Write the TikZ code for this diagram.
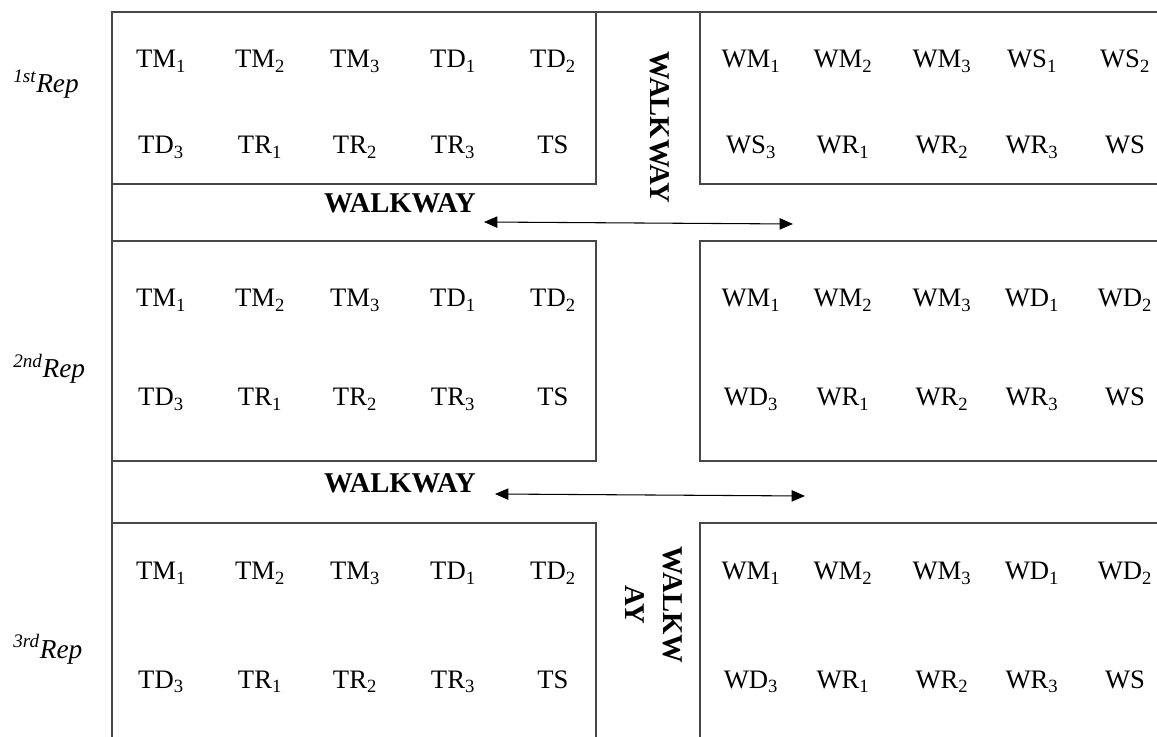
\documentclass[tikz,border=0pt]{standalone}
\usepackage{fontspec}
\setmainfont{Liberation Serif}
\usetikzlibrary{arrows.meta}
\newcommand\plotlab[2]{#1\textsubscript{#2}}
\begin{document}
\begin{tikzpicture}[x=0.75pt,y=-0.75pt,
  wall/.style={draw=black!72,line width=1.1pt},
  cell/.style={anchor=base,inner sep=0pt,font=\fontsize{20}{24}\selectfont},
  replabel/.style={anchor=base west,inner sep=0pt,font=\fontsize{20.5}{24}\selectfont\itshape},
  walk/.style={anchor=base,inner sep=0pt,font=\fontsize{21.5}{24}\selectfont\bfseries},
  vwalk/.style={walk,rotate=-90},
  flow/.style={draw=black,line width=0.8pt,{Triangle[length=10pt,width=8.5pt]}-{Triangle[length=10pt,width=8.5pt]}}
]
\fill[white] (0,0) rectangle (1157,737);
\useasboundingbox (0,0) rectangle (1157,737);

% plot boundaries
\draw[wall] (1157,12) -- (112,12) -- (112,737);
\draw[wall] (112,184) -- (596,184) -- (596,12);
\draw[wall] (700,12) -- (700,184) -- (1157,184);
\draw[wall] (112,241) -- (596,241) -- (596,461) -- (112,461);
\draw[wall] (1157,241) -- (700,241) -- (700,461) -- (1157,461);
\draw[wall] (112,523) -- (596,523) -- (596,737);
\draw[wall] (1157,523) -- (700,523) -- (700,737);

% replication labels
\node[replabel] (rep1) at (13,93) {\textsuperscript{1st}Rep};
\node[replabel] (rep2) at (13,378) {\textsuperscript{2nd}Rep};
\node[replabel] (rep3) at (13,658) {\textsuperscript{3rd}Rep};

% left-hand plots (same layout in every replication)
\foreach \r/\ya/\yb in {1/68/154, 2/307/406, 3/580/688}{
  \foreach \x/\a/\b [count=\i] in {
      161/\plotlab{TM}{1}/\plotlab{TD}{3},
      260/\plotlab{TM}{2}/\plotlab{TR}{1},
      355/\plotlab{TM}{3}/\plotlab{TR}{2},
      453/\plotlab{TD}{1}/\plotlab{TR}{3},
      553/\plotlab{TD}{2}/TS}{
    \node[cell] (L\r a\i) at (\x,\ya) {\a};
    \node[cell] (L\r b\i) at (\x,\yb) {\b};
  }
}

% right-hand plots, first replication
\foreach \x/\a/\b [count=\i] in {
    751/\plotlab{WM}{1}/\plotlab{WS}{3},
    843/\plotlab{WM}{2}/\plotlab{WR}{1},
    942/\plotlab{WM}{3}/\plotlab{WR}{2},
    1032/\plotlab{WS}{1}/\plotlab{WR}{3},
    1125/\plotlab{WS}{2}/WS}{
  \node[cell] (R1a\i) at (\x,68) {\a};
  \node[cell] (R1b\i) at (\x,154) {\b};
}

% right-hand plots, second and third replications
\foreach \r/\ya/\yb in {2/307/406, 3/580/688}{
  \foreach \x/\a/\b [count=\i] in {
      751/\plotlab{WM}{1}/\plotlab{WD}{3},
      843/\plotlab{WM}{2}/\plotlab{WR}{1},
      942/\plotlab{WM}{3}/\plotlab{WR}{2},
      1032/\plotlab{WD}{1}/\plotlab{WR}{3},
      1125/\plotlab{WD}{2}/WS}{
    \node[cell] (R\r a\i) at (\x,\ya) {\a};
    \node[cell] (R\r b\i) at (\x,\yb) {\b};
  }
}

% walkways
\node[walk] (walkh1) at (400,213) {WALKWAY};
\node[walk] (walkh2) at (400,493) {WALKWAY};
\node[vwalk] (walkv1) at (650,127.5) {WALKWAY};
\node[vwalk] (walkv2a) at (663,605) {WALKW};
\node[vwalk] (walkv2b) at (625,605) {AY};

\coordinate (a1l) at (484,222);
\coordinate (a1r) at (793,224);
\coordinate (a2l) at (495,494);
\coordinate (a2r) at (805,496);
\draw[flow] (a1l) -- (a1r);
\draw[flow] (a2l) -- (a2r);
\end{tikzpicture}
\end{document}
